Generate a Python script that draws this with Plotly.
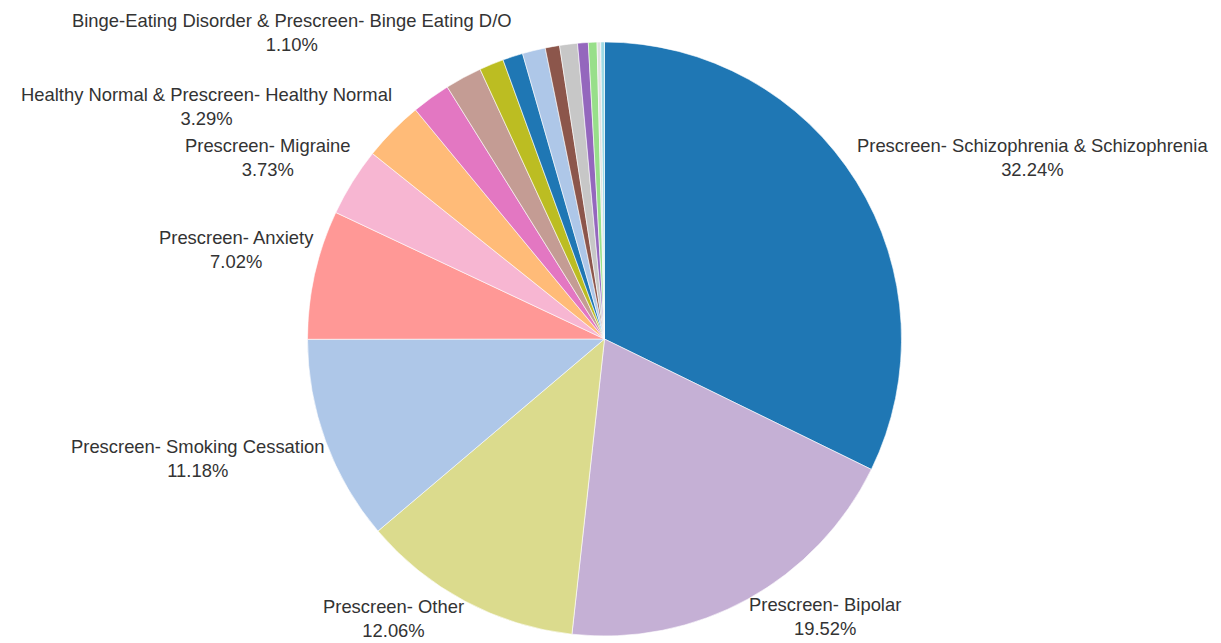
import math
import plotly.graph_objects as go

labels = [
    "Prescreen- Schizophrenia & Schizophrenia",
    "Prescreen- Bipolar",
    "Prescreen- Other",
    "Prescreen- Smoking Cessation",
    "Prescreen- Anxiety",
    "Prescreen- Migraine",
    "Healthy Normal & Prescreen- Healthy Normal",
    "Category 8",
    "Category 9",
    "Category 10",
    "Binge-Eating Disorder & Prescreen- Binge Eating D/O",
    "Category 12",
    "Category 13",
    "Category 14",
    "Category 15",
    "Category 16",
    "Category 17",
    "Category 18",
]
values = [32.24, 19.52, 12.06, 11.18, 7.02, 3.73, 3.29, 2.10, 2.00, 1.33,
          1.10, 1.25, 0.78, 0.97, 0.58, 0.47, 0.20, 0.20]
shown = [True, True, True, True, True, True, True, False, False, False,
         True, False, False, False, False, False, False, False]
colors = ["#1f77b4", "#c5b0d5", "#dbdb8d", "#aec7e8", "#ff9896", "#f7b6d2",
          "#ffbb78", "#e377c2", "#c49c94", "#bcbd22", "#1f77b4", "#aec7e8",
          "#8c564b", "#c7c7c7", "#9467bd", "#98df8a", "#e0e0e0", "#9edae5"]

# layout geometry
W, H = 1221, 643
dom_x = [0.25185, 0.73833]
dom_y = [0.01088, 0.93468]
FONT = dict(family="Liberation Sans, Arial, sans-serif", size=18.4, color="#333333")
LOWER_SHIFT = 6   # pull lower-half labels slightly toward the rim
UPPER_SHIFT = 1

fig = go.Figure(go.Pie(
    labels=labels,
    values=values,
    textinfo="none",
    sort=False,
    direction="clockwise",
    rotation=0,
    marker=dict(colors=colors, line=dict(color="white", width=0.6)),
    domain=dict(x=dom_x, y=dom_y),
    showlegend=False,
    hovertemplate="%{label}: %{value:.2f}%<extra></extra>",
))

# outside labels: corner of text box anchored at slice mid-point on the rim
cx = (dom_x[0] + dom_x[1]) / 2 * W
cy = (dom_y[0] + dom_y[1]) / 2 * H  # from bottom
r = min((dom_x[1] - dom_x[0]) * W, (dom_y[1] - dom_y[0]) * H) / 2
total = sum(values)
cum = 0.0
for lab, v, s in zip(labels, values, shown):
    mid = (cum + v / 2) / total * 2 * math.pi
    cum += v
    if not s:
        continue
    sx, cyv = math.sin(mid), math.cos(mid)
    px = cx + r * sx
    py = cy + r * cyv
    upper = cyv >= 0
    fig.add_annotation(
        x=px / W, y=py / H, xref="paper", yref="paper",
        text=f"{lab}<br>{v:.2f}%",
        showarrow=False, align="center",
        xanchor="left" if sx >= 0 else "right",
        yanchor="bottom" if upper else "top",
        yshift=UPPER_SHIFT if upper else LOWER_SHIFT,
        font=FONT,
        borderpad=0,
    )

fig.update_layout(
    width=W, height=H,
    margin=dict(l=0, r=0, t=0, b=0),
    paper_bgcolor="white",
    plot_bgcolor="white",
)

fig.write_html("out.html")
